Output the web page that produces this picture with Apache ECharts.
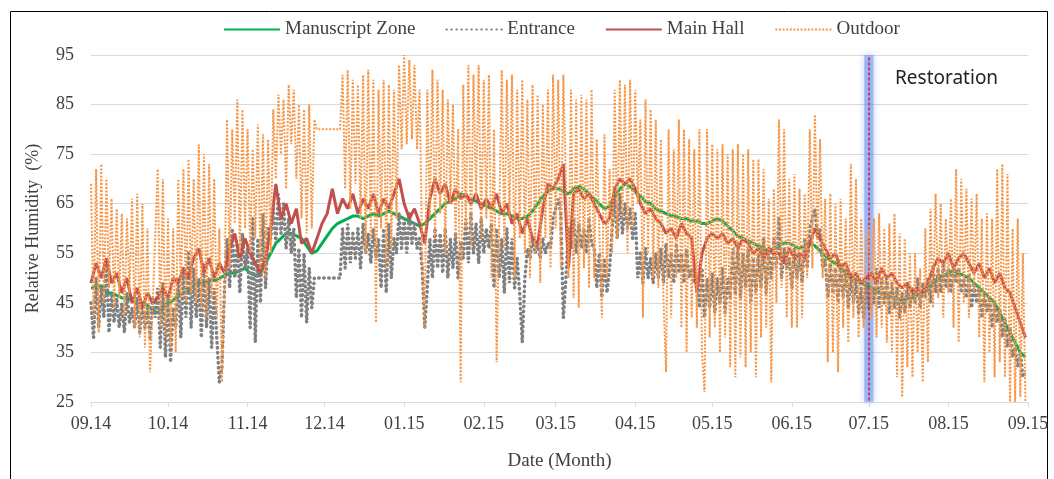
<!DOCTYPE html>
<html>
<head>
<meta charset="utf-8">
<title>Relative Humidity</title>
<script src="https://cdn.jsdelivr.net/npm/echarts@6/dist/echarts.min.js"></script>
<style>
  html, body { margin: 0; padding: 0; background: #fff; }
  #chart { width: 1054px; height: 479px; }
</style>
</head>
<body>
<div id="chart"></div>
<script>
// day 0 = 2014-09-01
// indoor zones read every 2 days, entrance + outdoor read every day
const indoorStep = 2;
const dailyStep = 1;

// month ticks (days from 2014-09-01) and their labels
const monthDays = [0, 30, 61, 91, 122, 153, 181, 212, 242, 273, 303, 334, 365];
const monthLabels = ["09.14", "10.14", "11.14", "12.14", "01.15", "02.15", "03.15",
  "04.15", "05.15", "06.15", "07.15", "08.15", "09.15"];

const restorationDay = 303;

const manuscriptZone = [
  48, 48, 48.5, 47, 47, 46.5, 46, 46, 45.5, 45,
  45, 44.5, 43.5, 43, 44, 45, 45.5, 46.5, 47, 47.5,
  48.5, 49, 49, 49.5, 49.5, 50, 50.5, 51, 51, 51.5,
  52, 51, 50.5, 51, 53, 55, 57, 58, 59, 59,
  58.5, 58, 56.5, 55, 55.5, 57, 58.5, 60, 61, 61.5,
  62, 62.5, 62.5, 62, 62.5, 63, 62.5, 63, 63.5, 63,
  62.5, 62, 61.5, 61, 60.5, 61, 62, 63, 64, 65,
  65.5, 66, 67, 66.5, 66, 65.5, 65, 64.5, 64, 63.5,
  63, 63, 62.5, 62, 62, 62.5, 63.5, 65, 66.5, 67.5,
  68, 68, 67.5, 67, 68, 68.5, 68, 67, 66, 65,
  64, 64.5, 66.5, 68, 69, 68.5, 67.5, 66.5, 65.5, 65,
  64, 63.5, 63, 62.5, 62.5, 62, 62, 61.5, 61.5, 61,
  61, 61.5, 62, 61.5, 60.5, 59.5, 58.5, 58, 57.5, 57,
  56.5, 56, 55.5, 56, 56.5, 57, 57, 56.5, 56, 56.5,
  57, 56.5, 55.5, 54.5, 53.5, 53, 52, 51, 50, 49.5,
  49, 48.5, 48, 47.5, 47, 46.5, 46, 46, 45.5, 46,
  46, 46.5, 47, 48, 49, 50, 50.5, 51, 51.5, 51,
  50.5, 50, 49, 48, 47, 46, 45, 43, 41, 39,
  37, 35, 34
];

const mainHall = [
  49, 53, 50, 54, 49, 51, 47, 50, 45, 48,
  44, 47, 45, 46, 48, 46, 50, 49, 52, 50,
  54, 56, 51, 54, 50, 53, 51, 56, 59, 54,
  58, 55, 53, 51, 54, 60, 69, 62, 65, 61,
  64, 57, 58, 55, 58, 61, 63, 68, 63, 66,
  64, 67, 63, 66, 64, 67, 63, 66, 64, 67,
  70, 65, 62, 64, 61, 57, 66, 70, 67, 69,
  65, 68, 66, 67, 65, 67, 64, 66, 64, 67,
  63, 65, 61, 63, 59, 62, 58, 57, 64, 69,
  68, 70, 73, 52, 67, 68, 66, 67, 65, 63,
  61, 62, 68, 70, 69, 70, 68, 65, 63, 64,
  62, 61, 59, 60, 58, 61, 59, 58, 47, 55,
  58, 59, 58, 59, 57, 58, 56, 58, 57, 55,
  56, 54, 56, 55, 55, 53, 56, 54, 55, 54,
  57, 60, 58, 56, 54, 55, 52, 53, 50, 51,
  49, 50, 51, 49, 52, 50, 51, 49, 48, 49,
  47, 48, 47, 49, 52, 54, 53, 55, 52, 54,
  55, 53, 51, 53, 50, 52, 49, 51, 48, 47,
  44, 41, 38
];

const entrance = [
  45, 38, 50, 40, 48, 42, 54, 39, 47, 41,
  46, 40, 45, 39, 47, 41, 44, 40, 46, 39,
  45, 40, 44, 38, 46, 42, 48, 36, 49, 34,
  46, 33, 44, 40, 50, 38, 52, 42, 55, 40,
  52, 42, 50, 38, 53, 40, 50, 36, 48, 38,
  29, 32, 48, 58, 48, 60, 50, 57, 47, 59,
  52, 56, 40, 62, 37, 58, 45, 63, 48, 60,
  58, 64, 57, 67, 59, 65, 56, 62, 55, 60,
  46, 56, 42, 55, 41, 52, 44, 50, 50, 50,
  50, 50, 50, 50, 50, 50, 50, 50, 60, 52,
  61, 53, 59, 54, 60, 52, 61, 55, 59, 53,
  60, 54, 58, 48, 60, 47, 61, 50, 58, 55,
  63, 56, 62, 55, 63, 57, 61, 56, 58, 52,
  40, 48, 58, 50, 60, 52, 59, 51, 60, 50,
  58, 52, 59, 50, 57, 54, 62, 53, 63, 55,
  61, 53, 62, 55, 60, 56, 61, 48, 60, 50,
  58, 47, 60, 49, 58, 48, 54, 47, 37, 50,
  56, 54, 58, 55, 57, 54, 58, 55, 57, 56,
  62, 64, 66, 63, 42, 50, 60, 56, 62, 55,
  61, 56, 60, 55, 62, 57, 56, 48, 55, 46,
  54, 47, 52, 60, 66, 58, 67, 59, 65, 60,
  64, 58, 63, 50, 55, 49, 56, 50, 54, 49,
  55, 50, 56, 49, 57, 50, 55, 49, 57, 51,
  55, 49, 56, 50, 52, 49, 50, 44, 52, 42,
  50, 44, 51, 43, 50, 45, 52, 43, 50, 46,
  56, 47, 57, 46, 55, 48, 56, 45, 54, 47,
  55, 48, 58, 47, 56, 50, 58, 52, 62, 50,
  56, 52, 54, 48, 56, 50, 55, 49, 58, 52,
  60, 62, 64, 58, 60, 52, 54, 46, 53, 47,
  52, 45, 53, 46, 52, 44, 51, 45, 50, 43,
  48, 42, 49, 44, 48, 45, 52, 44, 50, 45,
  50, 43, 49, 44, 48, 42, 47, 43, 49, 44,
  48, 45, 50, 44, 49, 46, 50, 45, 52, 47,
  52, 47, 53, 48, 52, 47, 53, 49, 52, 47,
  50, 46, 51, 44, 49, 45, 48, 42, 47, 43,
  46, 40, 45, 41, 44, 38, 42, 36, 40, 34,
  36, 32, 35, 30, 31
];

const outdoor = [
  69, 42, 72, 39, 73, 45, 70, 48, 66, 44,
  64, 46, 63, 42, 62, 47, 66, 40, 67, 38,
  65, 36, 60, 31, 44, 58, 72, 40, 70, 38,
  62, 36, 60, 35, 70, 46, 72, 45, 74, 47,
  70, 45, 77, 44, 75, 42, 73, 46, 70, 42,
  60, 29, 48, 82, 52, 80, 61, 86, 55, 84,
  60, 80, 55, 76, 58, 81, 52, 79, 50, 78,
  55, 84, 70, 87, 75, 86, 68, 89, 77, 88,
  70, 85, 62, 84, 59, 85, 60, 82, 80, 80,
  80, 80, 80, 80, 80, 80, 80, 80, 91, 68,
  92, 64, 90, 69, 89, 62, 91, 55, 92, 58,
  90, 41, 88, 60, 90, 52, 89, 56, 88, 62,
  93, 76, 95, 77, 94, 78, 93, 76, 88, 55,
  40, 88, 62, 92, 58, 90, 63, 88, 55, 86,
  65, 85, 58, 80, 29, 89, 60, 93, 56, 91,
  66, 93, 58, 90, 62, 91, 50, 80, 33, 60,
  92, 56, 90, 62, 91, 50, 88, 58, 90, 55,
  86, 50, 89, 55, 87, 49, 85, 58, 88, 52,
  91, 60, 90, 52, 91, 69, 50, 88, 46, 86,
  44, 87, 52, 86, 48, 88, 50, 78, 60, 42,
  79, 50, 72, 55, 88, 58, 90, 62, 89, 55,
  90, 60, 88, 65, 82, 42, 86, 55, 84, 50,
  82, 48, 78, 46, 31, 80, 42, 76, 50, 82,
  40, 80, 35, 78, 42, 76, 40, 80, 35, 27,
  80, 38, 77, 40, 76, 35, 77, 38, 75, 32,
  76, 30, 77, 34, 75, 32, 76, 35, 74, 30,
  74, 38, 72, 40, 66, 29, 68, 45, 82, 48,
  80, 42, 70, 40, 71, 40, 68, 42, 67, 50,
  80, 52, 83, 55, 78, 50, 66, 33, 67, 35,
  65, 31, 66, 40, 62, 37, 73, 42, 70, 38,
  62, 40, 58, 60, 42, 62, 38, 63, 40, 60,
  37, 61, 35, 63, 30, 59, 26, 58, 32, 55,
  30, 55, 35, 52, 29, 60, 33, 64, 44, 67,
  46, 65, 42, 62, 47, 66, 40, 72, 37, 70,
  45, 68, 42, 66, 47, 67, 38, 62, 29, 63,
  35, 62, 30, 72, 33, 73, 30, 71, 25, 60,
  25, 62, 26, 55, 25
];

function toPoints(values, step) {
  return values.map(function (v, i) {
    return [i * step, v];
  });
}

const serifFont = "Liberation Serif";
const textColor = "#404040";

const chart = echarts.init(document.getElementById("chart"), null, { renderer: "canvas" });

const option = {
  animation: false,
  backgroundColor: "#ffffff",
  grid: {
    left: 91,
    right: 26,
    top: 55,
    bottom: 77
  },
  legend: {
    data: ["Manuscript Zone", "Entrance", "Main Hall", "Outdoor"],
    left: 218,
    top: 15,
    itemWidth: 56,
    itemHeight: 14,
    itemGap: 30,
    itemStyle: { opacity: 0 },
    textStyle: {
      fontFamily: serifFont,
      fontSize: 19,
      color: textColor
    }
  },
  graphic: [
    {
      type: "rect",
      left: 8,
      top: 9,
      shape: { width: 1037, height: 480 },
      style: { fill: null, stroke: "#000", lineWidth: 1 },
      silent: true
    },
    {
      type: "text",
      left: 895,
      top: 69,
      style: {
        text: "Restoration",
        fontFamily: "Noto Sans",
        fontSize: 19,
        fill: "#222"
      },
      z: 100
    }
  ],
  xAxis: {
    type: "value",
    min: 0,
    max: 365,
    name: "Date (Month)",
    nameLocation: "middle",
    nameGap: 50,
    nameTextStyle: {
      fontFamily: serifFont,
      fontSize: 19,
      color: textColor
    },
    splitLine: { show: false },
    axisLine: {
      show: true,
      lineStyle: { color: "#d9d9d9", width: 1 }
    },
    axisTick: {
      show: true,
      length: 5,
      customValues: monthDays,
      lineStyle: { color: "#d9d9d9" }
    },
    axisLabel: {
      customValues: monthDays,
      margin: 13,
      fontFamily: serifFont,
      fontSize: 18,
      color: textColor,
      formatter: function (val) {
        const idx = monthDays.indexOf(val);
        return idx >= 0 ? monthLabels[idx] : "";
      }
    }
  },
  yAxis: {
    type: "value",
    min: 25,
    max: 95,
    interval: 10,
    name: "Relative Humidity  (%)",
    nameLocation: "middle",
    nameGap: 49,
    nameTextStyle: {
      fontFamily: serifFont,
      fontSize: 18,
      color: textColor
    },
    axisLine: { show: false },
    axisTick: { show: false },
    axisLabel: {
      margin: 17,
      fontFamily: serifFont,
      fontSize: 18,
      color: textColor
    },
    splitLine: {
      lineStyle: { color: "#d9d9d9", width: 1 }
    }
  },
  series: [
    {
      name: "Manuscript Zone",
      type: "line",
      data: toPoints(manuscriptZone, indoorStep),
      symbol: "none",
      color: "#00b050",
      lineStyle: { width: 3, color: "#00b050" },
      z: 2
    },
    {
      name: "Entrance",
      type: "line",
      data: toPoints(entrance, dailyStep),
      symbol: "none",
      color: "#7f7f7f",
      lineStyle: { width: 3.5, color: "#808080", type: [0.5, 4.5], cap: "round" },
      z: 3
    },
    {
      name: "Main Hall",
      type: "line",
      data: toPoints(mainHall, indoorStep),
      symbol: "none",
      color: "#c0504d",
      lineStyle: { width: 3, color: "#c0504d" },
      z: 4
    },
    {
      name: "Outdoor",
      type: "line",
      data: toPoints(outdoor, dailyStep),
      symbol: "none",
      color: "#f79646",
      lineStyle: { width: 2, color: "#f79646", type: [2, 1.6] },
      z: 5
    },
    {
      // restoration marker
      name: "Restoration",
      type: "line",
      data: [],
      z: 10,
      markArea: {
        silent: true,
        itemStyle: {
          color: "rgba(100,140,235,0.5)",
          shadowBlur: 7,
          shadowColor: "rgba(100,140,235,0.8)"
        },
        data: [[{ coord: [restorationDay - 1.8, 95.5] }, { coord: [restorationDay + 1.8, 25] }]]
      },
      markLine: {
        silent: true,
        symbol: "none",
        label: { show: false },
        lineStyle: { color: "#d0213c", type: [3, 2], width: 1.5 },
        data: [[{ coord: [restorationDay, 94.5] }, { coord: [restorationDay, 25] }]]
      }
    }
  ]
};

chart.setOption(option);
</script>
</body>
</html>
